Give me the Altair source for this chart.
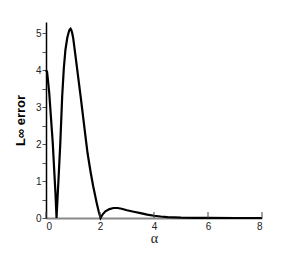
import altair as alt
import pandas as pd

alpha = [0.0, 0.04, 0.12, 0.19, 0.25, 0.30, 0.35, 0.39,
         0.46, 0.53, 0.60, 0.66, 0.72, 0.79, 0.85, 0.88, 0.91, 0.94, 0.97, 1.01,
         1.09, 1.18, 1.28, 1.38, 1.48, 1.54, 1.65, 1.75, 1.88, 1.95, 2.02,
         2.1, 2.2, 2.35, 2.5, 2.65, 2.8, 3.0, 3.25, 3.5, 3.75, 4.0, 4.25,
         4.5, 5.0, 5.5, 6.0, 7.0, 8.0]
err = [4.0, 3.95, 3.38, 2.65, 2.03, 1.35, 0.68, 0.0,
       1.0, 2.03, 3.3, 4.05, 4.55, 4.88, 5.05, 5.1, 5.12, 5.08, 5.0, 4.85,
       4.4, 3.88, 3.3, 2.7, 2.1, 1.75, 1.25, 0.85, 0.4, 0.18, 0.0,
       0.1, 0.18, 0.24, 0.27, 0.27, 0.25, 0.21, 0.17, 0.13, 0.09, 0.06, 0.04,
       0.025, 0.01, 0.004, 0.001, 0.0, 0.0]

x_ticks = [0, 2, 4, 6, 8]
y_ticks = [0, 0.5, 1, 1.5, 2, 2.5, 3, 3.5, 4, 4.5, 5]

df = pd.DataFrame({"alpha": alpha, "err": err})
tdf = pd.DataFrame({"alpha": x_ticks, "err": [0] * len(x_ticks)})

xscale = alt.Scale(domain=[0, 8], nice=False)
yscale = alt.Scale(domain=[0, 5.3], nice=False)

xaxis = alt.Axis(values=x_ticks, tickSize=0, labelPadding=3, grid=False,
                 domainColor="#888888", domainWidth=2,
                 labelFont="Liberation Sans", labelFontSize=10, labelColor="#222",
                 titleFont="Liberation Serif", titleFontSize=14,
                 titleFontWeight="normal", titlePadding=0, titleColor="#222")
yaxis = alt.Axis(values=y_ticks,
                 labelExpr="datum.value % 1 == 0 ? format(datum.value, 'd') : ''",
                 labelOverlap=False,
                 tickSize=4, tickColor="#555", labelPadding=1, grid=False,
                 domainColor="black", domainWidth=1.5,
                 labelFont="Liberation Sans", labelFontSize=10, labelColor="#222",
                 titleFont="Liberation Sans", titleFontSize=13,
                 titleFontWeight="bold", titlePadding=8, titleColor="black")

line = alt.Chart(df).mark_line(color="black", strokeWidth=2.2).encode(
    x=alt.X("alpha:Q", scale=xscale, title="α", axis=xaxis),
    y=alt.Y("err:Q", scale=yscale, title="L∞ error", axis=yaxis),
)

xt = alt.Chart(tdf).mark_rule(color="#444", strokeWidth=1).encode(
    x=alt.X("alpha:Q", scale=xscale, title="α", axis=xaxis),
    y=alt.Y("err:Q", scale=yscale, title="L∞ error", axis=yaxis),
    y2=alt.value(190),
)

chart = alt.layer(line, xt).properties(
    width=216, height=196,
    autosize=alt.AutoSizeParams(type="none"),
    padding={"left": 38, "top": 14, "right": 10, "bottom": 30},
).configure_view(stroke=None)

chart.save("out.html", embed_options={"renderer": "svg", "actions": False})
